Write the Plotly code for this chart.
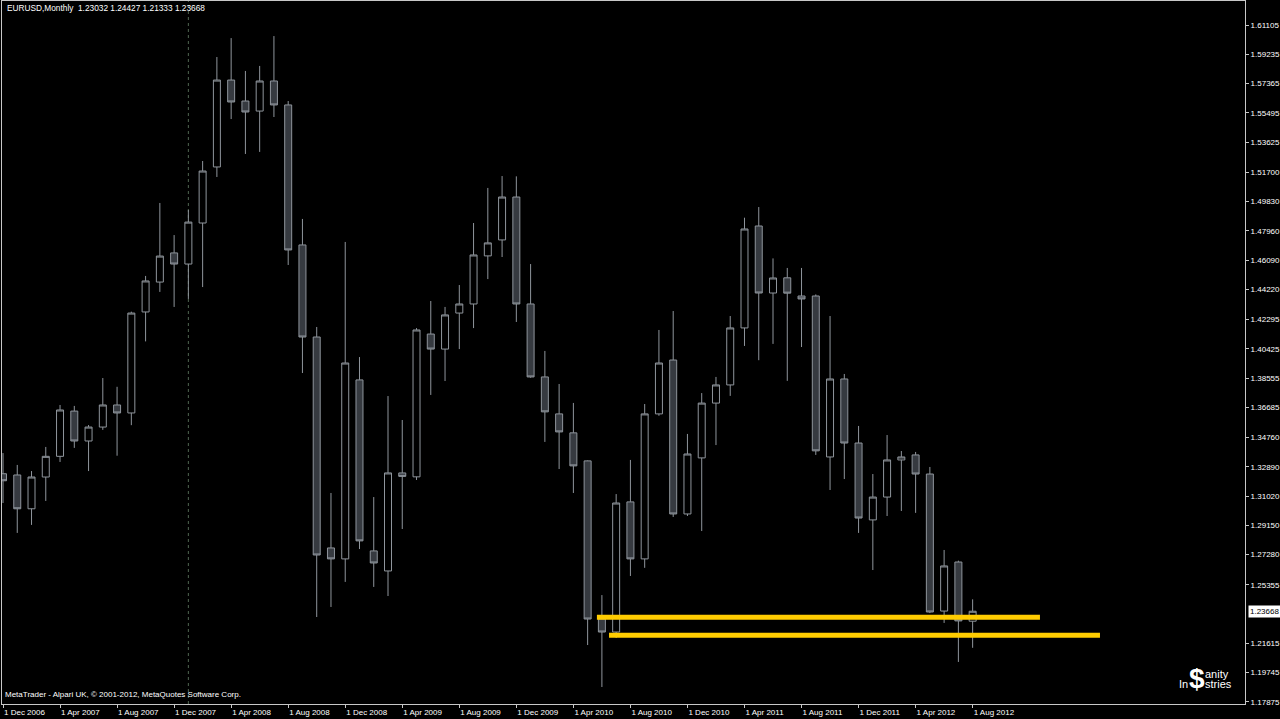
import plotly.graph_objects as go

# ---- data (EURUSD monthly, Dec 2006 .. Aug 2012) ----
opens = [1.3245, 1.3237, 1.3021, 1.3224, 1.3356, 1.3645, 1.3454, 1.3543, 1.3684, 1.3633,
         1.4278, 1.4469, 1.4655, 1.4584, 1.4846, 1.5204, 1.5759, 1.5625, 1.5561, 1.5753,
         1.5600, 1.4706, 1.4118, 1.2771, 1.2701, 1.3844, 1.2752, 1.2624, 1.3250, 1.3225,
         1.4137, 1.4041, 1.4271, 1.4329, 1.4636, 1.4738, 1.5012, 1.4329, 1.3863, 1.3627,
         1.3506, 1.3327, 1.2317, 1.2234, 1.3065, 1.2701, 1.3627, 1.3971, 1.2988, 1.3346,
         1.3696, 1.3812, 1.4176, 1.4827, 1.4399, 1.4496, 1.4380, 1.4380, 1.3352, 1.3850,
         1.3441, 1.2950, 1.3096, 1.3333, 1.3365, 1.3243, 1.2368, 1.2681, 1.23032]
highs = [1.3377, 1.3301, 1.3262, 1.3416, 1.3684, 1.3678, 1.3556, 1.3856, 1.3800, 1.4280,
         1.4508, 1.4974, 1.4769, 1.4929, 1.5242, 1.5906, 1.6027, 1.5817, 1.5849, 1.6040,
         1.5625, 1.4872, 1.4182, 1.3122, 1.4725, 1.3990, 1.3096, 1.3741, 1.3588, 1.4175,
         1.4348, 1.4310, 1.4450, 1.4846, 1.5070, 1.5146, 1.5144, 1.4584, 1.4029, 1.3818,
         1.3697, 1.3330, 1.2470, 1.3115, 1.3333, 1.3690, 1.4163, 1.4284, 1.3499, 1.3760,
         1.3863, 1.4252, 1.4880, 1.4948, 1.4620, 1.4559, 1.4559, 1.4390, 1.4252, 1.3882,
         1.3550, 1.3243, 1.3492, 1.3390, 1.3384, 1.3288, 1.2758, 1.2690, 1.24427]
lows = [1.3058, 1.2867, 1.2918, 1.3071, 1.3320, 1.3410, 1.3262, 1.3525, 1.3360, 1.3555,
        1.4090, 1.4406, 1.4310, 1.4361, 1.4437, 1.5140, 1.5510, 1.5287, 1.5300, 1.5523,
        1.4578, 1.3888, 1.2330, 1.2394, 1.2554, 1.2764, 1.2522, 1.2464, 1.2892, 1.3205,
        1.3748, 1.3837, 1.4041, 1.4175, 1.4488, 1.4629, 1.4214, 1.3858, 1.3448, 1.3275,
        1.3122, 1.2151, 1.1883, 1.2196, 1.2592, 1.2644, 1.3615, 1.2969, 1.2975, 1.2879,
        1.3428, 1.3742, 1.4061, 1.3970, 1.4074, 1.3838, 1.4054, 1.3365, 1.3141, 1.3211,
        1.2867, 1.2630, 1.2975, 1.3007, 1.2995, 1.2355, 1.2292, 1.2043, 1.21333]
closes = [1.3200, 1.3021, 1.3224, 1.3356, 1.3652, 1.3454, 1.3543, 1.3684, 1.3633, 1.4271,
          1.4476, 1.4635, 1.4584, 1.4852, 1.5178, 1.5759, 1.5619, 1.5555, 1.5753, 1.5600,
          1.4674, 1.4118, 1.2726, 1.2701, 1.3952, 1.2816, 1.2675, 1.3250, 1.3228, 1.4163,
          1.4041, 1.4259, 1.4329, 1.4642, 1.4719, 1.5012, 1.4329, 1.3863, 1.3640, 1.3512,
          1.3295, 1.2317, 1.2234, 1.3058, 1.2701, 1.3627, 1.3952, 1.2988, 1.3371, 1.3696,
          1.3812, 1.4176, 1.4808, 1.4399, 1.4495, 1.4398, 1.4361, 1.3391, 1.3850, 1.3441,
          1.2962, 1.3096, 1.3333, 1.3352, 1.3243, 1.2362, 1.2656, 1.2305, 1.23668]
bar_index = list(range(len(opens)))

x_tick_pos = [0, 4, 8, 12, 16, 20, 24, 28, 32, 36, 40, 44, 48, 52, 56, 60, 64, 68]
x_tick_text = ["1 Dec 2006", "1 Apr 2007", "1 Aug 2007", "1 Dec 2007", "1 Apr 2008",
               "1 Aug 2008", "1 Dec 2008", "1 Apr 2009", "1 Aug 2009", "1 Dec 2009",
               "1 Apr 2010", "1 Aug 2010", "1 Dec 2010", "1 Apr 2011", "1 Aug 2011",
               "1 Dec 2011", "1 Apr 2012", "1 Aug 2012"]
y_tick_text = ["1.61105", "1.59235", "1.57365", "1.55495", "1.53625", "1.51700",
               "1.49830", "1.47960", "1.46090", "1.44220", "1.42295", "1.40425",
               "1.38555", "1.36685", "1.34760", "1.32890", "1.31020", "1.29150",
               "1.27280", "1.25355", "1.21615", "1.19745", "1.17875"]
y_tick_vals = [float(t) for t in y_tick_text]

current_price = 1.23668
title_text = "EURUSD,Monthly  1.23032 1.24427 1.21333 1.23668"

# drawn support lines (trendline objects)
line1_x = [41.65, 72.72]
line1_y = [1.2328, 1.2328]
line2_x = [42.50, 76.93]
line2_y = [1.2213, 1.2213]
separator_x = 13

# ---- style ----
FONT = "Liberation Sans, Arial, sans-serif"
GRID = "#c8c8c8"
OUTLINE = "#8f959c"
BEAR_FILL = "#363a40"
YELLOW = "#FFCC00"

W, H = 1280, 719
ML, MR, MT, MB = 2, 35, 1, 15
PW, PH = W - ML - MR, H - MT - MB


def px(x):
    return (x - ML) / PW


def py(y):
    return 1 - (y - MT) / PH


fig = go.Figure()
fig.add_trace(go.Candlestick(
    x=bar_index, open=opens, high=highs, low=lows, close=closes,
    increasing=dict(line=dict(color=OUTLINE, width=1), fillcolor="#000000"),
    decreasing=dict(line=dict(color=OUTLINE, width=1), fillcolor=BEAR_FILL),
    whiskerwidth=0, hoverinfo="skip", showlegend=False,
))
for lx, ly in ((line1_x, line1_y), (line2_x, line2_y)):
    fig.add_trace(go.Scatter(x=lx, y=ly, mode="lines",
                             line=dict(color=YELLOW, width=5),
                             hoverinfo="skip", showlegend=False))

fig.add_shape(type="line", xref="x", yref="paper", x0=separator_x, x1=separator_x,
              y0=0, y1=1, line=dict(color="#4f6450", width=1, dash="dot"), layer="below")

annotations = [
    dict(text=title_text, x=px(5), y=py(8), xanchor="left", yanchor="middle",
         font=dict(size=8.3, color="#ffffff", family=FONT)),
    dict(text="MetaTrader - Alpari UK, © 2001-2012, MetaQuotes Software Corp.",
         x=px(3), y=py(694), xanchor="left", yanchor="middle",
         font=dict(size=8, color="#ffffff", family=FONT)),
    dict(text="<b>$</b>", x=px(1197), y=py(678), xanchor="center", yanchor="middle",
         font=dict(size=28, color="#ffffff", family=FONT)),
    dict(text="anity", x=px(1203), y=py(674), xanchor="left", yanchor="middle",
         font=dict(size=11, color="#ffffff", family=FONT)),
    dict(text="In", x=px(1190), y=py(684), xanchor="right", yanchor="middle",
         font=dict(size=11, color="#ffffff", family=FONT)),
    dict(text="stries", x=px(1203), y=py(684), xanchor="left", yanchor="middle",
         font=dict(size=11, color="#ffffff", family=FONT)),
]
for a in annotations:
    a.update(xref="paper", yref="paper", showarrow=False)
annotations.append(dict(text=f"{current_price:.5f}", xref="paper", yref="y", x=1,
                        y=current_price, xanchor="left", yanchor="middle", xshift=3,
                        showarrow=False, bgcolor="#ffffff", borderpad=1,
                        font=dict(size=8, color="#000000", family=FONT)))

fig.update_layout(
    width=W, height=H,
    margin=dict(l=ML, r=MR, t=MT, b=MB, pad=0),
    paper_bgcolor="#000000", plot_bgcolor="#000000",
    font=dict(family=FONT, size=8, color="#ffffff"),
    boxgap=0.3,
    annotations=annotations,
    xaxis=dict(range=[-0.07, 87.1], rangeslider=dict(visible=False), showgrid=False,
               zeroline=False, showline=True, linecolor=GRID, linewidth=1, mirror=True,
               tickmode="array", tickvals=x_tick_pos, ticktext=x_tick_text,
               ticks="outside", ticklen=3, tickcolor=GRID,
               ticklabelposition="outside right",
               tickfont=dict(size=8, color="#ffffff", family=FONT)),
    yaxis=dict(range=[1.17744, 1.62638], side="right", showgrid=False, zeroline=False,
               showline=True, linecolor=GRID, linewidth=1, mirror=True,
               tickmode="array", tickvals=y_tick_vals, ticktext=y_tick_text,
               ticks="outside", ticklen=3, tickcolor=GRID,
               tickfont=dict(size=8, color="#ffffff", family=FONT)),
)

fig.write_html("out.html",
               config={"displayModeBar": False},
               post_script="document.body.style.margin='0';"
                           "document.body.style.background='#000';")
